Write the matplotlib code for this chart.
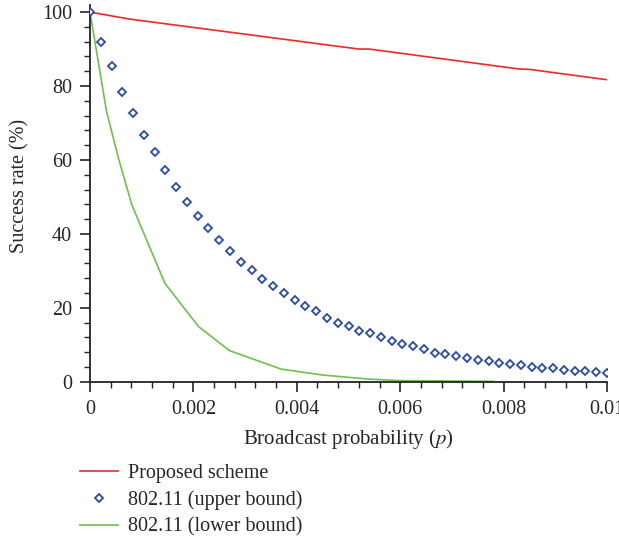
import numpy as np
import matplotlib.pyplot as plt
from matplotlib.ticker import MultipleLocator

# -------------------------
# Daten
# -------------------------

# Proposed scheme (Stützpunkte der Linie)
p_prop = [0.0, 0.00077, 0.0052, 0.0054, 0.0083, 0.0085, 0.01]
succ_prop = [100.0, 98.1, 90.0, 90.0, 84.6, 84.5, 81.7]

# 802.11 upper bound (49 Punkte, gleichmäßig 0 ... 0.01)
p_upper = np.linspace(0, 0.01, 49)
succ_upper = [
    100.0, 91.8, 85.5, 78.4, 72.6, 66.7, 62.1, 57.3, 52.6, 48.5,
    44.8, 41.5, 38.4, 35.4, 32.5, 30.2, 27.9, 25.9, 23.9, 22.1,
    20.5, 19.0, 17.3, 16.0, 15.0, 13.8, 13.1, 12.0, 10.9, 10.3,
    9.6, 8.8, 7.9, 7.6, 6.9, 6.4, 6.0, 5.6, 5.1, 4.8,
    4.4, 4.1, 3.6, 3.7, 3.2, 2.9, 2.9, 2.5, 2.4,
]

# 802.11 lower bound (Stützpunkte der Linie)
p_lower = [0.0, 0.00032, 0.00055, 0.00081, 0.00145, 0.0021, 0.0027,
           0.0037, 0.0045, 0.0054, 0.006, 0.0078]
succ_lower = [100.0, 73.1, 60.5, 47.8, 26.6, 14.9, 8.4,
              3.4, 1.8, 0.7, 0.3, 0.1]

x_ticks = [0, 0.002, 0.004, 0.006, 0.008, 0.01]
x_ticklabels = ["0", "0.002", "0.004", "0.006", "0.008", "0.01"]
y_ticks = [0, 20, 40, 60, 80, 100]

COLOR_PROP = "#f02828"
COLOR_UP = "#2a4aa8"
COLOR_LOW = "#6cc24a"
TEXT = "#262626"

plt.rcParams["font.family"] = ["Liberation Serif", "DejaVu Serif"]
plt.rcParams["mathtext.fontset"] = "stix"

fig = plt.figure(figsize=(6.19, 5.48), dpi=100, facecolor="white")
ax = fig.add_axes([90 / 619, (548 - 381.7) / 548, 517 / 619, 377 / 548])

ax.plot(p_prop, succ_prop, color=COLOR_PROP, lw=1.2, label="Proposed scheme", zorder=2)
ax.plot(p_upper, succ_upper, linestyle="none", marker="D", markersize=3.9,
        markerfacecolor="white", markeredgecolor=COLOR_UP, markeredgewidth=1.3,
        label="802.11 (upper bound)", zorder=3)
ax.plot(p_lower, succ_lower, color=COLOR_LOW, lw=1.2, label="802.11 (lower bound)", zorder=2)

ax.set_xlim(0, 0.01)
ax.set_ylim(0, 102)
ax.set_xticks(x_ticks)
ax.set_xticklabels(x_ticklabels)
ax.set_yticks(y_ticks)
ax.xaxis.set_minor_locator(MultipleLocator(0.0004))
ax.yaxis.set_minor_locator(MultipleLocator(4))

for s in ["top", "right"]:
    ax.spines[s].set_visible(False)
for s in ["left", "bottom"]:
    ax.spines[s].set_linewidth(1.3)
    ax.spines[s].set_color("#222222")

ax.tick_params(which="major", direction="out", length=7, width=1.2, labelsize=14.5,
               colors="#222222", labelcolor=TEXT, pad=6)
ax.tick_params(which="minor", direction="out", length=4, width=1.0, colors="#222222")

ax.set_xlabel("Broadcast probability ($p$)", fontsize=15, color=TEXT, labelpad=6)
ax.set_ylabel("Success rate (%)", fontsize=14.5, color=TEXT, labelpad=9, y=0.52)

# Legende unterhalb
fig.legend(loc="upper left", bbox_to_anchor=(62 / 619, 1 - 446 / 548),
           frameon=False, fontsize=14.5, handlelength=1.9, handletextpad=0.5,
           labelspacing=0.36, labelcolor=TEXT)

plt.savefig("out.png", dpi=100, facecolor="white")
